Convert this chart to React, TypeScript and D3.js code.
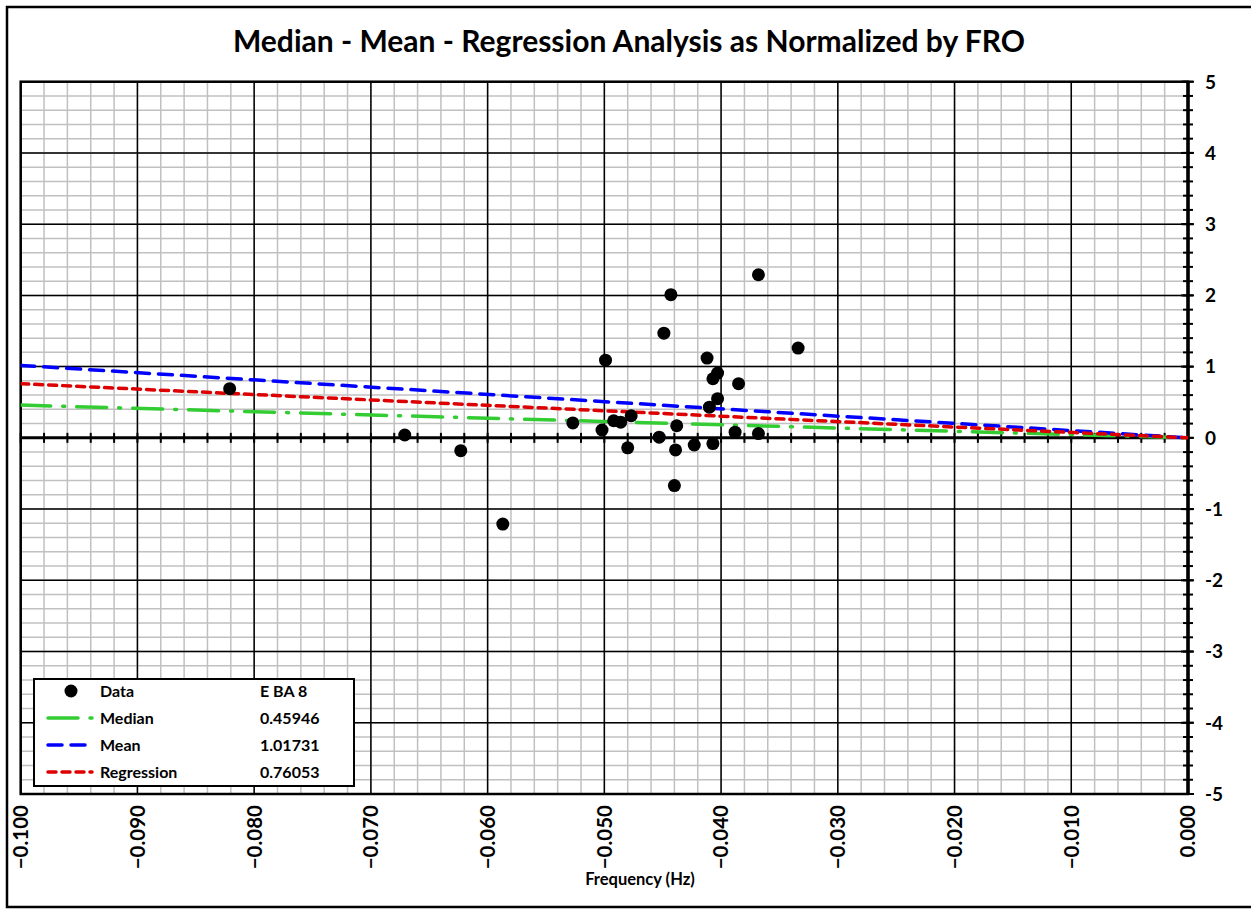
import React from "react";
import * as d3 from "d3";

const dataX = [-0.0821, -0.0671, -0.0623, -0.0587, -0.0527, -0.0499, -0.0502, -0.0492, -0.0486, -0.0477, -0.0480, -0.0453, -0.0449, -0.0443, -0.0438, -0.0439, -0.0440, -0.0423, -0.0412, -0.0410, -0.0407, -0.0403, -0.0407, -0.0403, -0.0385, -0.0388, -0.0368, -0.0368, -0.0334];
const dataY = [0.69, 0.04, -0.18, -1.21, 0.21, 1.09, 0.11, 0.24, 0.22, 0.31, -0.14, 0.01, 1.47, 2.01, 0.17, -0.17, -0.67, -0.10, 1.12, 0.43, 0.83, 0.91, -0.08, 0.55, 0.76, 0.08, 2.29, 0.06, 1.26];

const lineNames = ["Median", "Mean", "Regression"];
const lineValues = [0.45946, 1.01731, 0.76053];
const lineColors = ["#33cc33", "#0000ff", "#dd0000"];
const lineDash = ["30 12 2 12", "14 9", "8 6"];

const xTicks = [-0.1, -0.09, -0.08, -0.07, -0.06, -0.05, -0.04, -0.03, -0.02, -0.01, 0];
const yTicks = [5, 4, 3, 2, 1, 0, -1, -2, -3, -4, -5];

const title = "Median - Mean - Regression Analysis as Normalized by FRO";
const xTitle = "Frequency (Hz)";
const legendHeader = ["Data", "E BA 8"];

const W = 1251, H = 909;
const L = 20.7, R = 1188, T = 81.7, B = 794;
const FONT = "Lato, 'Open Sans', sans-serif";

export default function App() {
  const x = d3.scaleLinear().domain([-0.1, 0]).range([L, R]);
  const y = d3.scaleLinear().domain([-5, 5]).range([B, T]);
  const minorX = d3.range(0, 51).map((i) => -0.1 + i * 0.002);
  const minorY = d3.range(0, 51).map((i) => -5 + i * 0.2);
  const line = d3.line<[number, number]>().x((d) => x(d[0])).y((d) => y(d[1]));

  const legX = 34, legY = 679, legW = 320, legH = 107;
  const rowY = [691, 718, 745, 772];
  const LF = 16;

  return (
    <svg width={W} height={H} style={{ position: "absolute", left: 0, top: 0, background: "#fff" }}>
      <rect x={7} y={7} width={1250} height={900} fill="#fff" stroke="#000" strokeWidth={2.5} />
      <text x={629} y={52} textAnchor="middle" fontFamily={FONT} fontWeight="bold" fontSize={30} fill="#000">{title}</text>
      <defs>
        <clipPath id="plot"><rect x={L} y={T} width={R - L} height={B - T} /></clipPath>
      </defs>
      {minorX.map((v, i) => (
        <line key={"mx" + i} x1={x(v)} x2={x(v)} y1={T} y2={B} stroke="#c0c0c0" strokeWidth={1.5} />
      ))}
      {minorY.map((v, i) => (
        <line key={"my" + i} x1={L} x2={R} y1={y(v)} y2={y(v)} stroke="#c0c0c0" strokeWidth={1.5} />
      ))}
      {xTicks.map((v, i) => (
        <line key={"Mx" + i} x1={x(v)} x2={x(v)} y1={T} y2={B} stroke="#000" strokeWidth={1.5} />
      ))}
      {yTicks.map((v, i) => (
        <line key={"My" + i} x1={L} x2={R} y1={y(v)} y2={y(v)} stroke="#000" strokeWidth={1.5} />
      ))}
      <rect x={L} y={T} width={R - L} height={B - T} fill="none" stroke="#000" strokeWidth={2.5} />
      <line x1={L} x2={R} y1={y(0)} y2={y(0)} stroke="#000" strokeWidth={3} />
      {minorX.map((v, i) => (
        <line key={"tx" + i} x1={x(v)} x2={x(v)} y1={y(0) - 5} y2={y(0) + 5} stroke="#000" strokeWidth={2} />
      ))}
      <line x1={R} x2={R} y1={T} y2={B} stroke="#000" strokeWidth={3.5} />
      {minorY.map((v, i) => (
        <line key={"ty" + i} x1={R - 5} x2={R + 5} y1={y(v)} y2={y(v)} stroke="#000" strokeWidth={2} />
      ))}
      {yTicks.map((v, i) => (
        <line key={"tY" + i} x1={R - 7} x2={R + 6} y1={y(v)} y2={y(v)} stroke="#000" strokeWidth={2} />
      ))}
      <g clipPath="url(#plot)">
        {lineValues.map((v, i) => (
          <path key={"l" + i} d={line([[-0.1, v], [0, 0]]) || ""} fill="none" stroke={lineColors[i]} strokeWidth={3.5} strokeDasharray={lineDash[i]} strokeLinecap="round" />
        ))}
        {dataX.map((v, i) => (
          <circle key={"p" + i} cx={x(v)} cy={y(dataY[i])} r={6.5} fill="#000" />
        ))}
      </g>
      {yTicks.map((v, i) => (
        <text key={"yl" + i} x={1205} y={y(v)} dy="0.36em" fontFamily={FONT} fontWeight="bold" fontSize={19} fill="#000">{String(v)}</text>
      ))}
      {xTicks.map((v, i) => (
        <text key={"xl" + i} transform={`translate(${x(v)},805) rotate(-90)`} dy="0.36em" textAnchor="end" fontFamily={FONT} fontWeight="bold" fontSize={20.5} fill="#000">{d3.format(".3f")(v)}</text>
      ))}
      <text x={640} y={885} textAnchor="middle" fontFamily={FONT} fontWeight="bold" fontSize={16.5} fill="#000">{xTitle}</text>
      <rect x={legX} y={legY} width={legW} height={legH} fill="#fff" stroke="#000" strokeWidth={2} />
      <circle cx={71} cy={rowY[0]} r={6.5} fill="#000" />
      <text x={100} y={rowY[0]} dy="0.36em" fontFamily={FONT} fontWeight="bold" fontSize={LF}>{legendHeader[0]}</text>
      <text x={260} y={rowY[0]} dy="0.36em" fontFamily={FONT} fontWeight="bold" fontSize={LF}>{legendHeader[1]}</text>
      {lineNames.map((n, i) => (
        <g key={"lg" + i}>
          <line x1={48} x2={92} y1={rowY[i + 1]} y2={rowY[i + 1]} stroke={lineColors[i]} strokeWidth={3.5} strokeDasharray={lineDash[i]} strokeLinecap="round" />
          <text x={100} y={rowY[i + 1]} dy="0.36em" fontFamily={FONT} fontWeight="bold" fontSize={LF}>{n}</text>
          <text x={260} y={rowY[i + 1]} dy="0.36em" fontFamily={FONT} fontWeight="bold" fontSize={LF}>{lineValues[i].toFixed(5)}</text>
        </g>
      ))}
    </svg>
  );
}
